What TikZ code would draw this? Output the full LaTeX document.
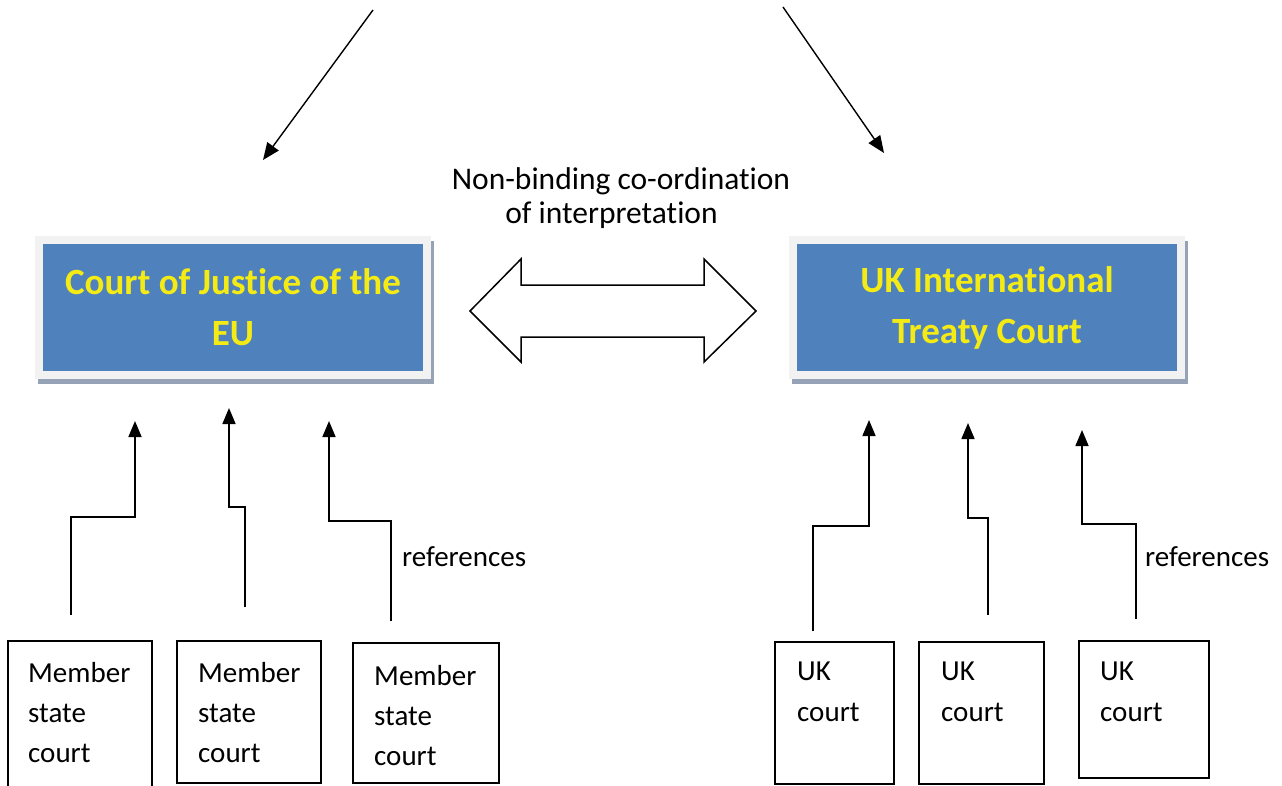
\documentclass[tikz,border=0pt]{standalone}
\usepackage{fontspec}
\setmainfont{Carlito}[Ligatures=NoCommon]
\usetikzlibrary{arrows.meta,calc,backgrounds}
\definecolor{cjblue}{RGB}{79,129,189}
\definecolor{framegrey}{RGB}{242,242,242}
\definecolor{shadowgrey}{RGB}{150,162,182}
\definecolor{courtyellow}{RGB}{245,235,20}
\tikzset{
  bigcourt/.style={rectangle, fill=cjblue, draw=framegrey, line width=8pt,
    minimum width=388pt, minimum height=135pt, align=center, text=courtyellow,
    font=\fontsize{37}{51}\selectfont\bfseries, inner sep=0pt},
  courtbox/.style={rectangle, draw=black, line width=1.5pt, inner sep=0pt, outer sep=0pt},
  boxtext/.style={anchor=base west, align=left, inner sep=0pt, font=\fontsize{29}{40}\selectfont},
  refarrow/.style={line width=1.6pt, -{Triangle[width=13pt,length=16pt]}},
  toparrow/.style={line width=1.4pt, -{Triangle[width=14pt,length=17pt]}},
  plaintext/.style={inner sep=0pt, font=\fontsize{29}{40}\selectfont}
}
\begin{document}
\begin{tikzpicture}[x=1pt,y=-1pt]
\useasboundingbox (0,0) rectangle (1282,785);
% big courts
\node[bigcourt] (cj) at (233,307.5) {Court of Justice of the\\EU};
\node[bigcourt] (uk) at (987,307.5) {UK International\\Treaty Court};
\begin{scope}[on background layer]
  \fill[shadowgrey] ($(cj.north west)+(3,5)$) rectangle ($(cj.south east)+(3,5)$);
  \fill[shadowgrey] ($(uk.north west)+(3,5)$) rectangle ($(uk.south east)+(3,5)$);
\end{scope}
% top text
\node[plaintext, align=center, font=\fontsize{31.5}{34}\selectfont] (nb) at (621,198) {Non-binding co-ordination\\of interpretation\rule{19pt}{0pt}};
% double arrow
\draw[line width=1.5pt, fill=white] (470,311) -- (521,259) -- (521,285) -- (704,285) -- (704,259) -- (756,311) -- (704,362) -- (704,337) -- (521,337) -- (521,362) -- cycle;
% top arrows
\coordinate (tl0) at (373,10);
\coordinate (tl1) at (263,160);
\coordinate (tr0) at (783,7);
\coordinate (tr1) at (884,153);
\draw[toparrow] (tl0) -- (tl1);
\draw[toparrow] (tr0) -- (tr1);
% bottom boxes
\draw[courtbox] (8,641) rectangle (152,792);
\draw[courtbox] (177,641) rectangle (321,783);
\draw[courtbox] (353,643) rectangle (499,783);
\draw[courtbox] (775,642) rectangle (894,784);
\draw[courtbox] (919,642) rectangle (1044,784);
\draw[courtbox] (1079,641) rectangle (1209,778);
\node[boxtext] (m1t) at (28,762) {Member\\state\\court};
\node[boxtext] (m2t) at (198,762) {Member\\state\\court};
\node[boxtext] (m3t) at (374,765) {Member\\state\\court};
\node[boxtext, font=\fontsize{29}{41}\selectfont] (u1t) at (797,721) {UK\\court};
\node[boxtext, font=\fontsize{29}{41}\selectfont] (u2t) at (941,721) {UK\\court};
\node[boxtext, font=\fontsize{29}{41}\selectfont] (u3t) at (1100,721) {UK\\court};
% references connectors
\coordinate (a1s) at (71,615);  \coordinate (a1k) at (135,517); \coordinate (a1e) at (135,421);
\coordinate (a2s) at (245,607); \coordinate (a2k) at (229,507); \coordinate (a2e) at (229,408);
\coordinate (a3s) at (391,621); \coordinate (a3k) at (329,521); \coordinate (a3e) at (329,421);
\coordinate (b1s) at (813,631); \coordinate (b1k) at (869,526); \coordinate (b1e) at (869,420);
\coordinate (b2s) at (988,615); \coordinate (b2k) at (968,518); \coordinate (b2e) at (968,423);
\coordinate (b3s) at (1136,619); \coordinate (b3k) at (1082,524); \coordinate (b3e) at (1082,430);
\foreach \p in {a1,a2,a3,b1,b2,b3}{
  \draw[refarrow] (\p s) |- (\p k) -- (\p e);
}
\node[plaintext, anchor=base west] (refl) at (402,566) {references};
\node[plaintext, anchor=base west] (refr) at (1145,566) {references};
\end{tikzpicture}
\end{document}
